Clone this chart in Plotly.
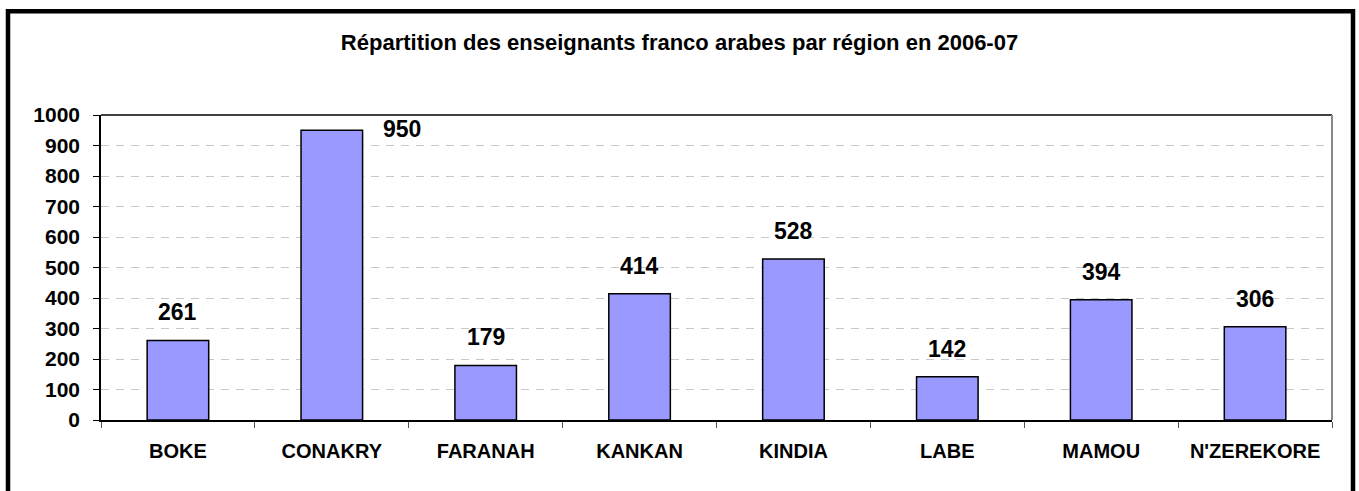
import plotly.graph_objects as go

categories = ["BOKE", "CONAKRY", "FARANAH", "KANKAN", "KINDIA", "LABE", "MAMOU", "N'ZEREKORE"]
values = [261, 950, 179, 414, 528, 142, 394, 306]
y_ticks = [0, 100, 200, 300, 400, 500, 600, 700, 800, 900, 1000]
title_text = "Répartition des enseignants franco arabes par région en 2006-07"

FONT = "Liberation Sans, Arial, sans-serif"

fig = go.Figure()
fig.add_trace(go.Bar(
    x=categories, y=values, width=0.4,
    marker=dict(color="#9999FF", line=dict(color="#000000", width=1.5)),
    hoverinfo="x+y",
))

annotations = []
for c, v in zip(categories, values):
    if v == max(values):
        annotations.append(dict(x=c, y=v, xref="x", yref="y", text=f"<b>{v}</b>",
                                showarrow=False, xanchor="left", yanchor="middle",
                                xshift=49, yshift=1,
                                font=dict(family=FONT, size=23, color="#000000")))
    else:
        annotations.append(dict(x=c, y=v, xref="x", yref="y", text=f"<b>{v}</b>",
                                showarrow=False, xanchor="center", yanchor="bottom",
                                yshift=13,
                                font=dict(family=FONT, size=23, color="#000000")))

fig.update_layout(
    width=1359, height=491,
    margin=dict(l=101, r=27, t=115, b=71),
    paper_bgcolor="#FFFFFF", plot_bgcolor="#FFFFFF",
    showlegend=False,
    title=dict(text=f"<b>{title_text}</b>", x=0.5, xanchor="center",
               y=1 - 42 / 491, yanchor="middle",
               font=dict(family=FONT, size=22, color="#000000")),
    annotations=annotations,
    xaxis=dict(
        type="category", tickson="boundaries", ticks="outside", ticklen=6,
        tickcolor="#555555", tickwidth=1,
        showline=True, linecolor="#000000", linewidth=1.5,
        showgrid=False, ticklabelstandoff=12,
        tickfont=dict(family=FONT, size=20, color="#000000"),
        tickprefix="<b>", ticksuffix="</b>",
        fixedrange=True,
    ),
    yaxis=dict(
        range=[0, 1000], tickvals=y_ticks, ticktext=[f"<b>{t}</b>" for t in y_ticks],
        ticks="outside", ticklen=6, tickcolor="#000000", tickwidth=1,
        showline=True, linecolor="#000000", linewidth=1.5,
        showgrid=True, gridcolor="#C8C8C8", gridwidth=1, griddash="8px,7px",
        zeroline=False, ticklabelstandoff=9,
        tickfont=dict(family=FONT, size=21, color="#000000"),
        fixedrange=True,
    ),
    shapes=[
        dict(type="line", xref="paper", yref="paper", x0=0, x1=1, y0=1, y1=1,
             line=dict(color="#000000", width=1.5)),
        dict(type="line", xref="paper", yref="paper", x0=1, x1=1, y0=0, y1=1,
             line=dict(color="#888888", width=2)),
        dict(type="rect", xref="paper", yref="paper",
             x0=(8 - 101) / 1231, x1=(1353 - 101) / 1231,
             y0=-0.4, y1=(420 - 11.3) / 305,
             line=dict(color="#000000", width=4.5), fillcolor="rgba(0,0,0,0)"),
    ],
)

fig.write_html("out.html",
               config={"displayModeBar": False},
               post_script="document.body.style.margin='0';document.body.style.padding='0';")
